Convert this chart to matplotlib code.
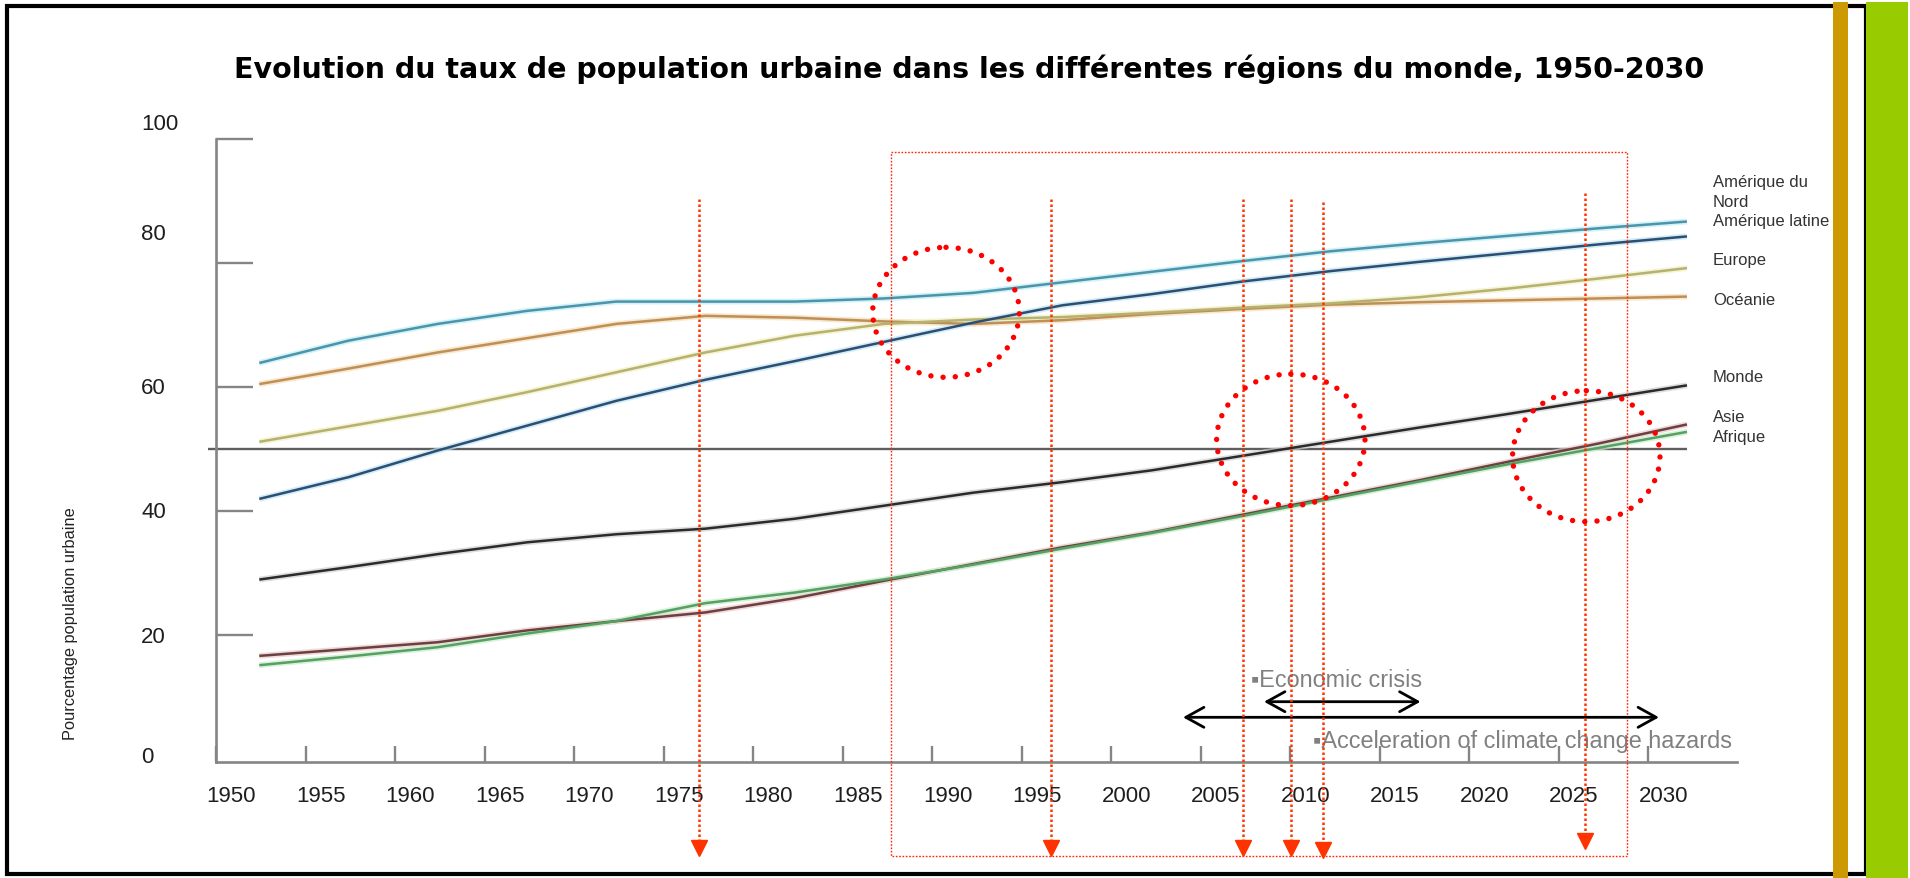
import numpy as np
import matplotlib
matplotlib.use("Agg")
import matplotlib.pyplot as plt
import matplotlib.transforms as mtransforms
from matplotlib.patches import Ellipse, Rectangle, FancyArrowPatch
from matplotlib.lines import Line2D
from matplotlib import font_manager

# ---------------- data ----------------
years = [1950, 1955, 1960, 1965, 1970, 1975, 1980, 1985, 1990, 1995,
         2000, 2005, 2010, 2015, 2020, 2025, 2030]
amerique_nord = [63.9, 67.5, 70.2, 72.3, 73.8, 73.8, 73.8, 74.3, 75.2, 76.9,
                 78.6, 80.3, 81.9, 83.2, 84.4, 85.6, 86.7]
amerique_latine = [42.0, 45.5, 49.8, 53.8, 57.8, 61.2, 64.2, 67.3, 70.4, 73.2,
                   75.0, 77.0, 78.7, 80.2, 81.6, 83.0, 84.3]
europe = [51.2, 53.7, 56.2, 59.2, 62.4, 65.6, 68.3, 70.2, 70.9, 71.3,
          72.0, 72.8, 73.5, 74.5, 75.9, 77.5, 79.2]
oceanie = [60.5, 63.0, 65.6, 67.9, 70.2, 71.5, 71.2, 70.6, 70.2, 70.8,
           71.8, 72.6, 73.3, 73.7, 74.0, 74.3, 74.6]
monde = [29.0, 31.0, 33.1, 35.0, 36.3, 37.2, 38.8, 40.9, 43.0, 44.7,
         46.6, 48.9, 51.2, 53.5, 55.7, 58.0, 60.3]
asie = [16.7, 17.8, 18.9, 20.8, 22.3, 23.7, 26.0, 28.8, 31.5, 34.2,
        36.6, 39.4, 42.2, 45.0, 48.0, 50.9, 54.0]
afrique = [15.2, 16.6, 18.1, 20.3, 22.3, 25.2, 26.9, 29.0, 31.4, 34.0,
           36.5, 39.2, 42.0, 44.8, 47.6, 50.2, 52.8]
seuil_urbain = 50

xtick_years = [1950, 1955, 1960, 1965, 1970, 1975, 1980, 1985, 1990, 1995,
               2000, 2005, 2010, 2015, 2020, 2025, 2030]
xtick_labels = [str(y) for y in xtick_years]
ytick_values = [100, 80, 60, 40, 20, 0]
ytick_labels = ["100", "80", "60", "40", "20", "0"]

TITLE = ("Evolution du taux de population urbaine dans les diff\u00e9rentes "
         "r\u00e9gions du monde, 1950-2030")
YLABEL = "Pourcentage population urbaine"
region_labels = ["Am\u00e9rique du", "Nord", "Am\u00e9rique latine", "Europe",
                 "Oc\u00e9anie", "Monde", "Asie", "Afrique"]
note_crisis = "\u25aaEconomic crisis"
note_climate = "\u25aaAcceleration of climate change hazards"

# ---------------- layout / style ----------------
W, H = 1910, 879
_names = {f.name for f in font_manager.fontManager.ttflist}
SANS = "Liberation Sans" if "Liberation Sans" in _names else "DejaVu Sans"
NARROW = "Liberation Sans Narrow" if "Liberation Sans Narrow" in _names else SANS

X0_PX, X_PER_YEAR = 259.3, 17.846      # pixel of year 1950 for the curves
Y0_PX, Y_PER_PCT = 760.5, 6.205        # pixel (from top) of 0 %
XLIM = (1945, 2040)
YLIM = (-5, 105)
AXIS_X = 1947.6                        # where the vertical axis stands
AXIS_Y = -0.35
AXIS_XEND = 2032.8
TICK_SCALE = 1.003
AXIS_COLOR = "#858585"

fig = plt.figure(figsize=(W / 100, H / 100), dpi=100)
fig.patch.set_facecolor("white")
PX = mtransforms.Affine2D().scale(1.0 / W, -1.0 / H).translate(0, 1) + fig.transFigure

left_px = X0_PX + X_PER_YEAR * (XLIM[0] - 1950)
right_px = X0_PX + X_PER_YEAR * (XLIM[1] - 1950)
top_px = Y0_PX - Y_PER_PCT * YLIM[1]
bot_px = Y0_PX - Y_PER_PCT * YLIM[0]
ax = fig.add_axes([left_px / W, 1 - bot_px / H, (right_px - left_px) / W,
                   (bot_px - top_px) / H])
ax.set_xlim(XLIM)
ax.set_ylim(YLIM)
ax.patch.set_alpha(0)

for s in ["top", "right"]:
    ax.spines[s].set_visible(False)
ax.spines["left"].set_position(("data", AXIS_X))
ax.spines["left"].set_bounds(AXIS_Y, 100)
ax.spines["bottom"].set_position(("data", AXIS_Y))
ax.spines["bottom"].set_bounds(AXIS_X, AXIS_XEND)
for s in ["left", "bottom"]:
    ax.spines[s].set_color(AXIS_COLOR)
    ax.spines[s].set_linewidth(1.9)

ax.set_xticks([AXIS_X + (y - 1950) * TICK_SCALE for y in xtick_years])
ax.set_xticklabels(xtick_labels, fontsize=16, family=SANS, color="#1e1e1e")
ax.tick_params(axis="x", direction="in", length=11.5, width=1.7,
               color=AXIS_COLOR, pad=17.0)
for lab in ax.get_xticklabels():
    lab.set_transform(lab.get_transform() +
                      mtransforms.ScaledTranslation(0.15, 0, fig.dpi_scale_trans))
ax.set_yticks([v for v in ytick_values if v > 0])
ax.set_yticklabels([])
ax.tick_params(axis="y", direction="in", length=26.5, width=1.7, color=AXIS_COLOR)

# reference line at 50 %
ax.hlines(seuil_urbain, 1947.1, years[-1], color="#5e5e5e", lw=1.7, zorder=2)

# ---------------- curves ----------------
series = [
    (oceanie, "#bf8f58", "#f5dfba"),
    (europe, "#b7b171", "#f2f0c4"),
    (amerique_nord, "#4f93aa", "#bdeff6"),
    (amerique_latine, "#2f4d73", "#bde6f2"),
    (monde, "#2b2b2b", "#d0d0d0"),
    (asie, "#6a4040", "#ecc9c9"),
    (afrique, "#55a062", "#c9eccb"),
]
for vals, core, halo in series:
    ax.plot(years, vals, color=halo, lw=4.2, alpha=0.7, solid_capstyle="butt", zorder=3)
    ax.plot(years, vals, color=core, lw=1.8, solid_capstyle="butt", zorder=4)

# ---------------- texts ----------------
title = fig.text(969.5, 77.5, TITLE, transform=PX, ha="center", va="baseline",
                 fontsize=20, fontweight="bold", family="DejaVu Sans", color="black")
r = fig.canvas.get_renderer()
w = title.get_window_extent(renderer=r).width
title.set_fontsize(20 * 1471.0 / w)

ylab_y = [124, 235, 389, 513, 638, 758]
for lab, yy in zip(ytick_labels, ylab_y):
    fig.text(141, yy, lab, transform=PX, ha="left", va="center",
             fontsize=16, family=NARROW, color="#1e1e1e")

fig.text(71, 624, YLABEL, transform=PX, rotation=90, ha="center", va="center",
         fontsize=11.8, family=NARROW, color="#222222")

reg_y = [183, 202.7, 221.7, 261, 300.7, 378, 418, 437.5]
for lab, yy in zip(region_labels, reg_y):
    fig.text(1713, yy, lab, transform=PX, ha="left", va="center",
             fontsize=12, family=SANS, color="#333333")

fig.text(1251, 681, note_crisis, transform=PX, ha="left", va="center",
         fontsize=16.8, family=[SANS, "DejaVu Sans"], color="#808080")
fig.text(1313, 742, note_climate, transform=PX, ha="left", va="center",
         fontsize=16.9, family=[SANS, "DejaVu Sans"], color="#808080")

# double arrows
for (xa, xb, yy) in [(1264, 1420.5, 702.7), (1183, 1659, 718.3)]:
    arr = FancyArrowPatch((xa, yy), (xb, yy), transform=PX,
                          arrowstyle="<->,head_length=13,head_width=7.2",
                          mutation_scale=1, lw=2.0, color="black",
                          shrinkA=0, shrinkB=0, zorder=6)
    fig.add_artist(arr)

# ---------------- red annotations ----------------
RED = "#ff3300"
fig.add_artist(Rectangle((890.7, 153.3), 1627 - 890.7, 857.3 - 153.3, transform=PX,
                         fill=False, edgecolor="#ff2200", lw=1.0,
                         linestyle=(0, (1.2, 1.2)), zorder=5))
for (xx, ytop, ytip) in [(698.5, 200, 857), (1051, 200, 857), (1242.8, 200, 857),
                         (1291, 200, 857), (1323, 203, 859), (1584.8, 194, 850)]:
    fig.add_artist(Line2D([xx, xx], [ytop, ytip - 14], transform=PX, color=RED,
                          lw=1.8, linestyle=(0, (1.0, 1.0)), zorder=6))
    fig.add_artist(Line2D([xx], [ytip - 7.6], transform=PX, color=RED,
                          marker="v", markersize=11, linestyle="none", zorder=6))

for (cx, cy, rx, ry) in [(946, 313.3, 73.3, 65), (1290.8, 440.8, 74.2, 65.8),
                         (1586.3, 457.2, 73.7, 65.5)]:
    e = Ellipse((cx, cy), 2 * rx, 2 * ry, transform=PX, fill=False,
                edgecolor="#ff0000", lw=3.9, linestyle=(0, (0.01, 2.25)),
                capstyle="round", zorder=7)
    fig.add_artist(e)

# ---------------- slide frame and side bars ----------------
fig.add_artist(Rectangle((6.7, 6.7), 1866 - 6.7, 875.5 - 6.7, transform=PX,
                         fill=False, edgecolor="black", lw=3.0, zorder=8))
fig.add_artist(Rectangle((1833, 3), 15, 876, transform=PX, facecolor="#cc9900",
                         edgecolor="none", zorder=9))
fig.add_artist(Rectangle((1866, 3), 42, 876, transform=PX, facecolor="#99cc00",
                         edgecolor="none", zorder=9))

fig.savefig("out.png", dpi=100, facecolor="white")
